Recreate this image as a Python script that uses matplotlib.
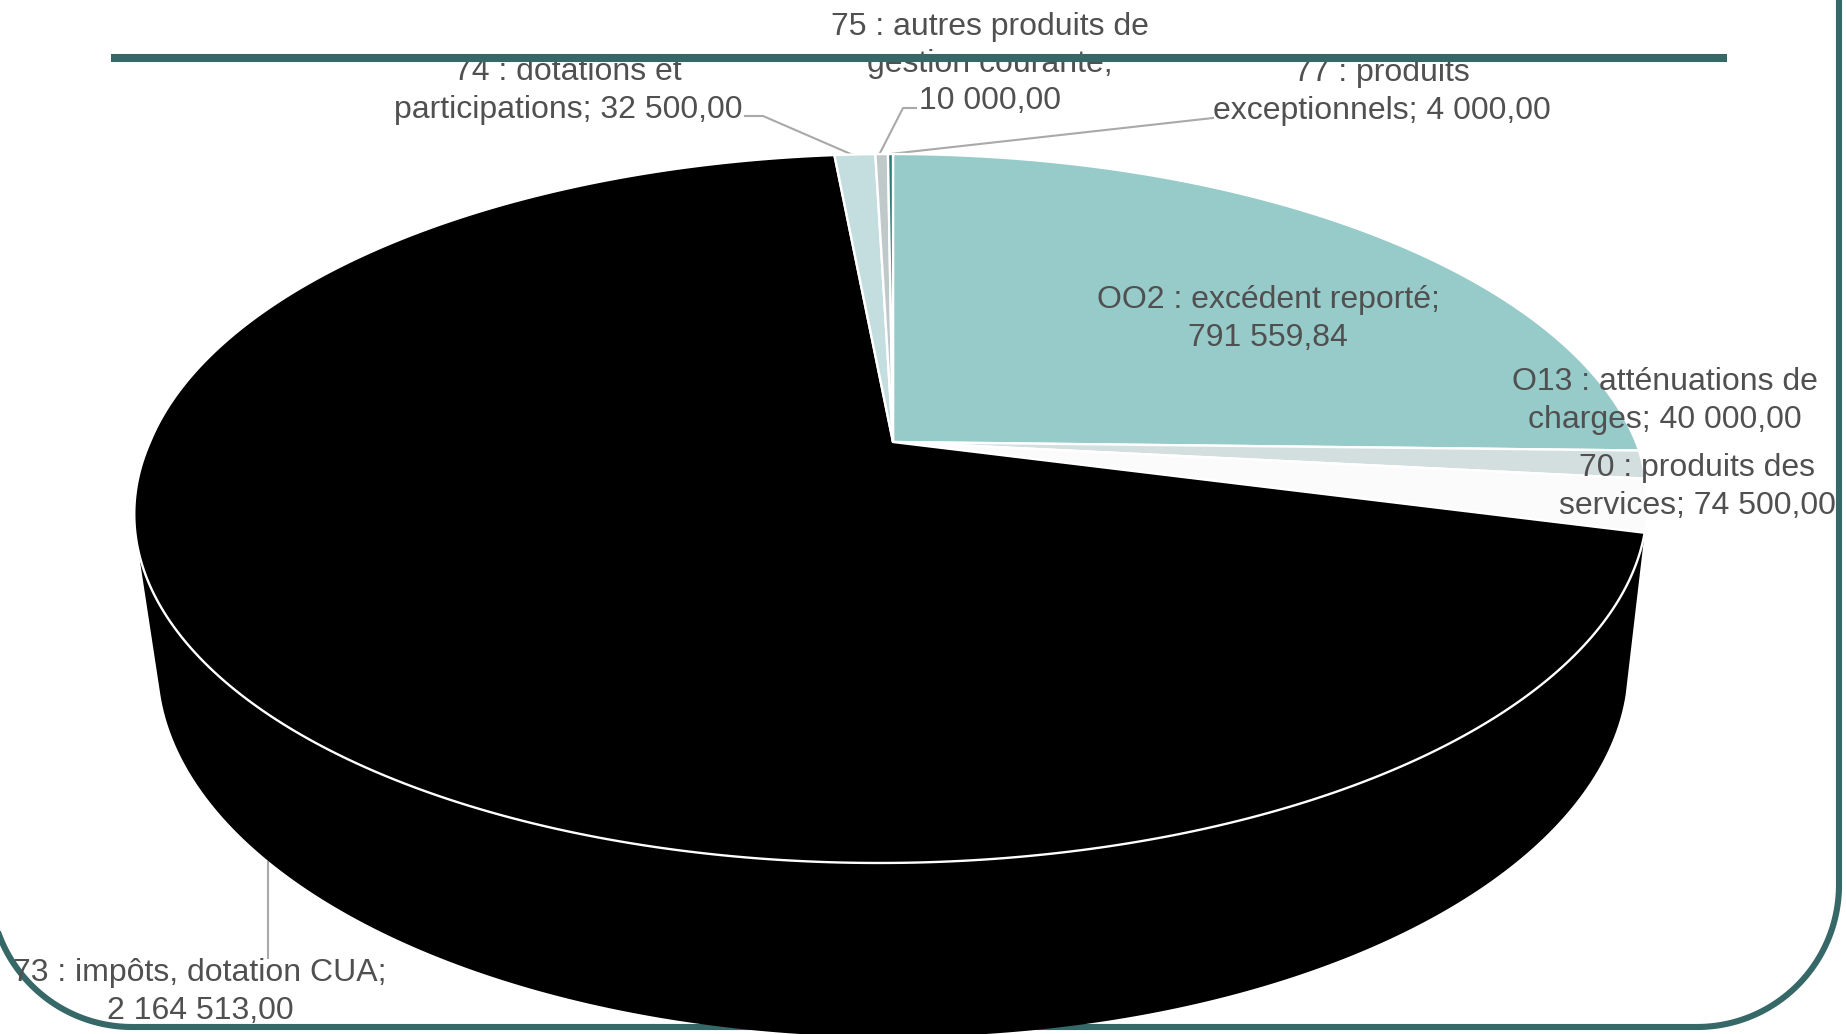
import numpy as np
import matplotlib
matplotlib.use('Agg')
import matplotlib.pyplot as plt

# --- data, clockwise from 12 o'clock ---
values = [791559.84, 40000.00, 74500.00, 2164513.00, 32500.00, 10000.00, 4000.00]
colors = ['#96CBC9', '#D3DEDF', '#FBFBFB', '#000000', '#C4DEE0', '#BFC9CA', '#2F7C79']
labels = [
    'OO2 : excédent reporté;\n791 559,84',
    'O13 : atténuations de\ncharges; 40 000,00',
    '70 : produits des\nservices; 74 500,00',
    '73 : impôts, dotation CUA;\n2 164 513,00',
    '74 : dotations et\nparticipations; 32 500,00',
    '75 : autres produits de\ngestion courante;\n10 000,00',
    '77 : produits\nexceptionnels; 4 000,00',
]
label_pos = [(1268, 319), (1665, 401), (1697, 487), (200, 992), (568, 91), (990, 64), (1382, 92)]

# leader lines (pixel positions on the slide)
leaders = [
    ([268, 268], [862, 958]),
    ([745, 763, 853], [116, 116, 155]),
    ([916, 903, 880], [108, 108, 153]),
    ([1213, 890], [118, 154]),
]

# pie geometry: perspective disc seen from above
CX, CY = 893, 442
RX, RY = 743, 342
PERSP = 0.1876
SHEAR = -0.033
# lower rim of the side wall
BOT_CX, BOT_CY, BOT_A, BOT_B = 893, 665, 735, 372
BOT_TANGENT = 0.08
SIDE_LEFT_Y = 549

TEAL = '#366868'
TXT = '#505050'
plt.rcParams['font.family'] = ['Liberation Sans', 'DejaVu Sans']


def project(theta):
    w = 1 + PERSP * np.cos(theta)
    y = CY - RY * np.cos(theta) / w
    x = CX + RX * np.sin(theta) / w + SHEAR * np.clip(y - CY, 0, None)
    return x, y


fig = plt.figure(figsize=(18.46, 10.34), dpi=100)
ax = fig.add_axes([0, 0, 1, 1])
ax.set_xlim(0, 1846)
ax.set_ylim(1034, 0)
ax.axis('off')

# slide frame: right side, rounded corners, bottom
R = 142
a = np.linspace(0, np.pi / 2, 60)
fx = np.r_[1839, 1839 - R + R * np.cos(a), -10 + R + R * np.cos(a + np.pi / 2)]
fy = np.r_[0, 1027 - R + R * np.sin(a), 1027 - R + R * np.sin(a + np.pi / 2)]
ax.plot(fx, fy, color=TEAL, lw=4.4, zorder=2)
ax.plot([111, 1727], [58, 58], color=TEAL, lw=5.8, solid_capstyle='butt', zorder=2)

edges = np.cumsum([0] + values) / sum(values) * 2 * np.pi

# side wall of the big slice
big = 3
t = np.linspace(edges[big], edges[big + 1], 400)
rx, ry = project(t)
keep = (ry >= SIDE_LEFT_Y) | (t < np.pi)
u = np.linspace(np.pi - BOT_TANGENT, BOT_TANGENT, 200)
bx = BOT_CX + BOT_A * np.cos(u)
by = BOT_CY + BOT_B * np.sin(u)
ax.fill(np.r_[rx[keep], bx], np.r_[ry[keep], by], color='black', lw=0, zorder=3)

# top face
for i, col in enumerate(colors):
    t = np.linspace(edges[i], edges[i + 1], max(int((edges[i + 1] - edges[i]) * 120), 4))
    x, y = project(t)
    ax.fill(np.r_[CX, x], np.r_[CY, y], facecolor=col, edgecolor='white', lw=1.7, zorder=4)

for xs, ys in leaders:
    ax.plot(xs, ys, color='#A9A9A9', lw=1.5, zorder=1)

for i, (txt, pos) in enumerate(zip(labels, label_pos)):
    # the top labels sit behind the frame line
    z = 1 if i >= 4 else 5
    ax.text(pos[0], pos[1], txt, ha='center', va='center', multialignment='center',
            fontsize=23, color=TXT, linespacing=1.31, zorder=z)

fig.savefig('out.png', dpi=100, facecolor='white')
